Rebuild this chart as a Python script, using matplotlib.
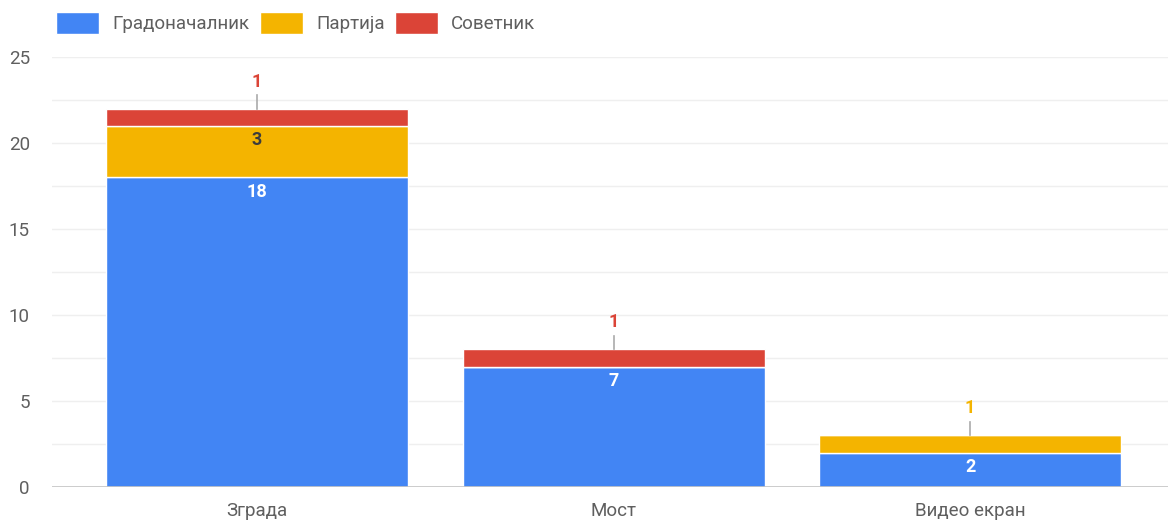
import matplotlib
matplotlib.use("Agg")
import matplotlib.pyplot as plt
import numpy as np

plt.rcParams["font.family"] = ["Roboto", "DejaVu Sans"]

# ── data ─────────────────────────────────────────────────────
categories = ["Зграда", "Мост", "Видео екран"]
series_names = ["Градоначалник", "Партија", "Советник"]
mayor = [18, 7, 2]
party = [3, 0, 1]
councillor = [1, 1, 0]

COLORS = ["#4285F4", "#F4B400", "#DB4437"]
INSIDE_TEXT = ["white", "#3c3c3c", "white"]
TEXT_GRAY = "#5f5f5f"

fig = plt.figure(figsize=(11.68, 5.24), dpi=100)
ax = fig.add_axes([52 / 1168, 37 / 524, 1116 / 1168, 430 / 524])

x = np.arange(len(categories))
width = 0.847
bottom = np.zeros(len(categories))
all_series = [mayor, party, councillor]

for i, (name, vals) in enumerate(zip(series_names, all_series)):
    vals = np.array(vals, dtype=float)
    ax.bar(x, vals, width, bottom=bottom, color=COLORS[i], label=name,
           edgecolor="white", linewidth=1.0, zorder=3)
    for j, v in enumerate(vals):
        if v <= 0:
            continue
        top = bottom[j] + v
        is_top = all(all_series[k][j] == 0 for k in range(i + 1, len(all_series)))
        if v >= 2:
            # big segment: label inside, near the top
            ax.annotate(f"{int(v)}", (x[j], top), xytext=(0, -4),
                        textcoords="offset points", ha="center", va="top",
                        fontsize=13, fontweight="bold", color=INSIDE_TEXT[i],
                        zorder=5)
        elif is_top:
            # thin top segment: label above with a leader line
            ax.plot([x[j], x[j]], [top, top + 0.8], color="#aaaaaa", lw=1.2,
                    zorder=5)
            ax.annotate(f"{int(v)}", (x[j], top), xytext=(0, 13),
                        textcoords="offset points", ha="center", va="bottom",
                        fontsize=13, fontweight="bold", color=COLORS[i],
                        zorder=5)
    bottom += vals

ax.set_xlim(-0.575, 2.555)
ax.set_ylim(0, 25)
ax.set_yticks([0, 5, 10, 15, 20, 25])
ax.set_yticks(np.arange(2.5, 25, 5), minor=True)
ax.grid(axis="y", which="both", color="#efefef", linewidth=1, zorder=0)
ax.axhline(0, color="#c4c4c4", linewidth=1.2, zorder=4)
ax.set_xticks(x)
ax.set_xticklabels(categories)
ax.tick_params(axis="both", which="both", length=0, labelsize=13.5,
               colors=TEXT_GRAY)
ax.tick_params(axis="y", pad=16)
ax.tick_params(axis="x", pad=11)
for s in ax.spines.values():
    s.set_visible(False)

ax.legend(loc="lower left", bbox_to_anchor=(-0.003, 1.035), ncol=3,
          frameon=False, fontsize=13.5, labelcolor=TEXT_GRAY,
          handlelength=2.3, handleheight=1.5, handletextpad=0.7,
          columnspacing=0.55, borderaxespad=0)

fig.savefig("out.png", dpi=100)
